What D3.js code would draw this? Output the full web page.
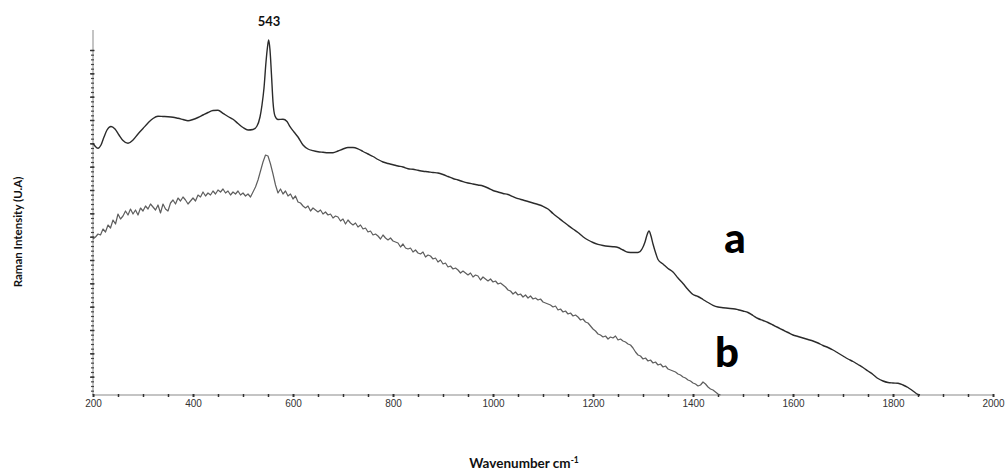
<!DOCTYPE html>
<html>
<head>
<meta charset="utf-8">
<script src="https://cdn.jsdelivr.net/npm/d3@7"></script>
<style>
  html, body { margin: 0; padding: 0; background: #fff; }
  svg { display: block; }
</style>
</head>
<body>
<svg id="chart" width="1007" height="471"></svg>
<script>
// ---- data ----
const xTicksLabelled = [200, 400, 600, 800, 1000, 1200, 1400, 1600, 1800, 2000];

// spectrum a (wavenumber, intensity in a.u.)
const waveA = [200,204,210,216,222,228,236,244,252,260,270,280,290,300,310,320,330,340,350,360,370,380,390,400,410,420,430,440,450,460,470,480,490,500,510,520,528,534,538,542,546,549,551.4,554,557,560,564,570,580,588,594,602,610,620,630,640,650,660,670,680,690,700,710,720,730,740,750,760,770,780,790,800,810,820,830,840,850,860,870,880,890,900,910,920,930,940,950,960,970,980,990,1000,1010,1020,1030,1040,1050,1060,1070,1080,1090,1100,1110,1120,1130,1140,1150,1160,1170,1180,1190,1200,1210,1220,1230,1240,1250,1260,1270,1280,1290,1298,1304,1308,1312,1316,1320,1326,1330,1340,1350,1360,1370,1380,1390,1400,1410,1420,1430,1440,1450,1460,1470,1480,1490,1500,1510,1520,1530,1540,1550,1560,1570,1580,1590,1600,1610,1620,1630,1640,1650,1660,1670,1680,1690,1700,1710,1720,1730,1740,1750,1760,1770,1780,1790,1800,1810,1820,1830,1840,1850,1854];
const intensityA = [256.7,254,251.7,255,263,270,273.5,271,265,259.5,256.7,260,266,271.5,277,281.5,283.7,283.5,283.3,282.8,281.7,280.5,279.3,280.5,282.5,285,287.5,289.5,289.7,286.7,283.5,280.7,276.5,272.5,270,270.5,274,283,295,312,338,353,360,350,325,298,284,280.5,280.7,278.5,273.3,268,263,255,251,249.3,248.2,247.7,247.2,247.3,249,251,252.5,252.5,251.2,248.5,246,243.5,240.5,238,236.5,235.3,234,233,231.3,230.7,229.7,228.8,228.2,227.5,227,225.5,223.5,221.5,220,218.3,217,216,215,214,212,209.5,208,206.5,205.5,203.3,201.3,200,198.5,197,195.5,193.7,191,186.5,182.5,178.5,174.7,171,167.5,163.3,160,157.5,155.7,154.5,153.7,153.3,152.5,150,147.7,147.5,147.5,151,158,165,169,164,156,146,140.5,136,131.5,128,122,116.5,110.5,105.5,103.5,100.5,97.5,94.7,93,92.3,91.7,91.3,90.3,89,87.5,84.5,81.5,79.5,77.5,75,72.5,70,67.5,65,63.5,62,60.5,59,57,54.5,52.5,50,47,44,41,38.5,35.5,32.5,29,25.5,21.5,19,17.5,17,16.7,15,12.5,9,5.5,5];

// spectrum b, sampled every 5 cm-1 starting at 200 cm-1
const waveBStart = 200, waveBStep = 5;
const intensityB = [161,163,166,165,171,168,175,172,180,176,186,181,184,189,185,191,186,190,185,192,
189,194,191,196,193,190,195,187,196,191,189,197,200,196,202,199,203,200,196,199,
202,199,205,203,208,204,207,205,209,206,210,208,211,207,209,205,208,206,209,205,
207,204,206,203,208,213,220,229,238,245,244,236,226,215,207,211,206,209,204,206,
201,204,198,197,194,192,194,189,192,190,188,190,186,188,185,186,182,184,183,179,
181,176,180,177,175,177,173,175,171,172,168,169,165,166,164,161,165,162,160,162,
159,158,157,153,156,152,151,152,148,150,147,146,148,143,145,144,141,142,138,140,
136,137,133,134,131,132,130,127,129,127,125,127,123,125,124,120,123,121,119,121,
118,119,116,117,115,113,110,109,106,108,105,106,103,105,102,104,101,102,100,101,
98,97,96,95,93,94,90,91,88,89,86,87,84,85,83,80,81,78,77,74,
71,69,66,65,63,64,61,63,62,64,60,61,59,58,56,55,52,48,45,44,
41,42,39,40,37,38,35,36,33,34,31,30,29,28,26,25,23,22,20,19,
17,16,14,15,18,16,13,11,10,8,6,5];

// ---- layout ----
const svg = d3.select("#chart");
const x = d3.scaleLinear().domain([200, 2000]).range([93, 993]);
const y = d3.scaleLinear().domain([5, 370]).range([395, 30]);

const majorStepY = 23.333, minorStepY = majorStepY / 5;
const yMinor = d3.range(350, 5, -minorStepY);
const yMajor = d3.range(350, 5, -majorStepY);
const xMinor = d3.range(200, 2001, 50);

// axis lines (light grey)
svg.append("line").attr("x1", x(200)).attr("x2", x(2000)).attr("y1", y(5)).attr("y2", y(5))
  .attr("stroke", "#c4c4c4").attr("stroke-width", 2);
svg.append("line").attr("x1", x(200)).attr("x2", x(200)).attr("y1", y(5)).attr("y2", 30)
  .attr("stroke", "#c4c4c4").attr("stroke-width", 2);

// x axis
const gx = svg.append("g").attr("transform", `translate(0,${y(5)})`)
  .call(d3.axisBottom(x).tickValues(xMinor).tickSize(2)
    .tickFormat(d => xTicksLabelled.includes(d) ? d : ""));
gx.select(".domain").remove();
gx.selectAll(".tick line").attr("stroke", "#333").attr("y1", -1)
  .attr("stroke-width", d => xTicksLabelled.includes(d) ? 2 : 1.5);
gx.selectAll(".tick text").attr("font-family", "Liberation Sans, Arial, sans-serif")
  .attr("font-size", 10).attr("fill", "#333").attr("dy", "0.65em");

// y axis (dense ticks, no labels)
const gy = svg.append("g").attr("transform", `translate(${x(200)},0)`)
  .call(d3.axisLeft(y).tickValues(yMinor).tickSize(2).tickFormat(""));
gy.select(".domain").remove();
gy.selectAll(".tick line").attr("stroke", "#444").attr("x1", 1).attr("stroke-width", 1.2);
const gy2 = svg.append("g").attr("transform", `translate(${x(200)},0)`)
  .call(d3.axisLeft(y).tickValues(yMajor).tickSize(3).tickFormat(""));
gy2.select(".domain").remove();
gy2.selectAll(".tick line").attr("stroke", "#333").attr("x1", 1.5).attr("stroke-width", 1.4);

// lines
const line = d3.line().x(d => x(d[0])).y(d => y(d[1]));
const dataA = waveA.map((w, i) => [w, intensityA[i]]);
const dataB = intensityB.map((v, i) => [waveBStart + i * waveBStep, v]);

svg.append("path").datum(dataB).attr("d", line)
  .attr("fill", "none").attr("stroke", "#5e5e5e").attr("stroke-width", 1.2)
  .attr("stroke-linejoin", "round");
svg.append("path").datum(dataA).attr("d", d3.line().x(d => x(d[0])).y(d => y(d[1])).curve(d3.curveMonotoneX))
  .attr("fill", "none").attr("stroke", "#2b2b2b").attr("stroke-width", 1.4)
  .attr("stroke-linejoin", "round");

// annotations
const bold = "Lato, 'Open Sans', sans-serif";
svg.append("text").attr("x", 269).attr("y", 26).attr("text-anchor", "middle")
  .attr("font-family", bold).attr("font-weight", 700).attr("font-size", 13).attr("fill", "#111").text("543");
svg.append("text").attr("x", 735).attr("y", 253).attr("text-anchor", "middle")
  .attr("font-family", bold).attr("font-weight", 900).attr("font-size", 42).attr("fill", "#000").text("a");
svg.append("text").attr("x", 727).attr("y", 367).attr("text-anchor", "middle")
  .attr("font-family", bold).attr("font-weight", 900).attr("font-size", 42).attr("fill", "#000").text("b");

// axis titles
svg.append("text").attr("transform", "translate(22,232) rotate(-90)").attr("text-anchor", "middle")
  .attr("font-family", bold).attr("font-weight", 700).attr("font-size", 11.5).attr("fill", "#111")
  .text("Raman Intensity (U.A)");
const xt = svg.append("text").attr("x", 524).attr("y", 468).attr("text-anchor", "middle")
  .attr("font-family", bold).attr("font-weight", 700).attr("font-size", 13.5).attr("fill", "#111");
xt.append("tspan").text("Wavenumber cm");
xt.append("tspan").attr("font-size", 8.5).attr("dy", -5).text("-1");
</script>
</body>
</html>
